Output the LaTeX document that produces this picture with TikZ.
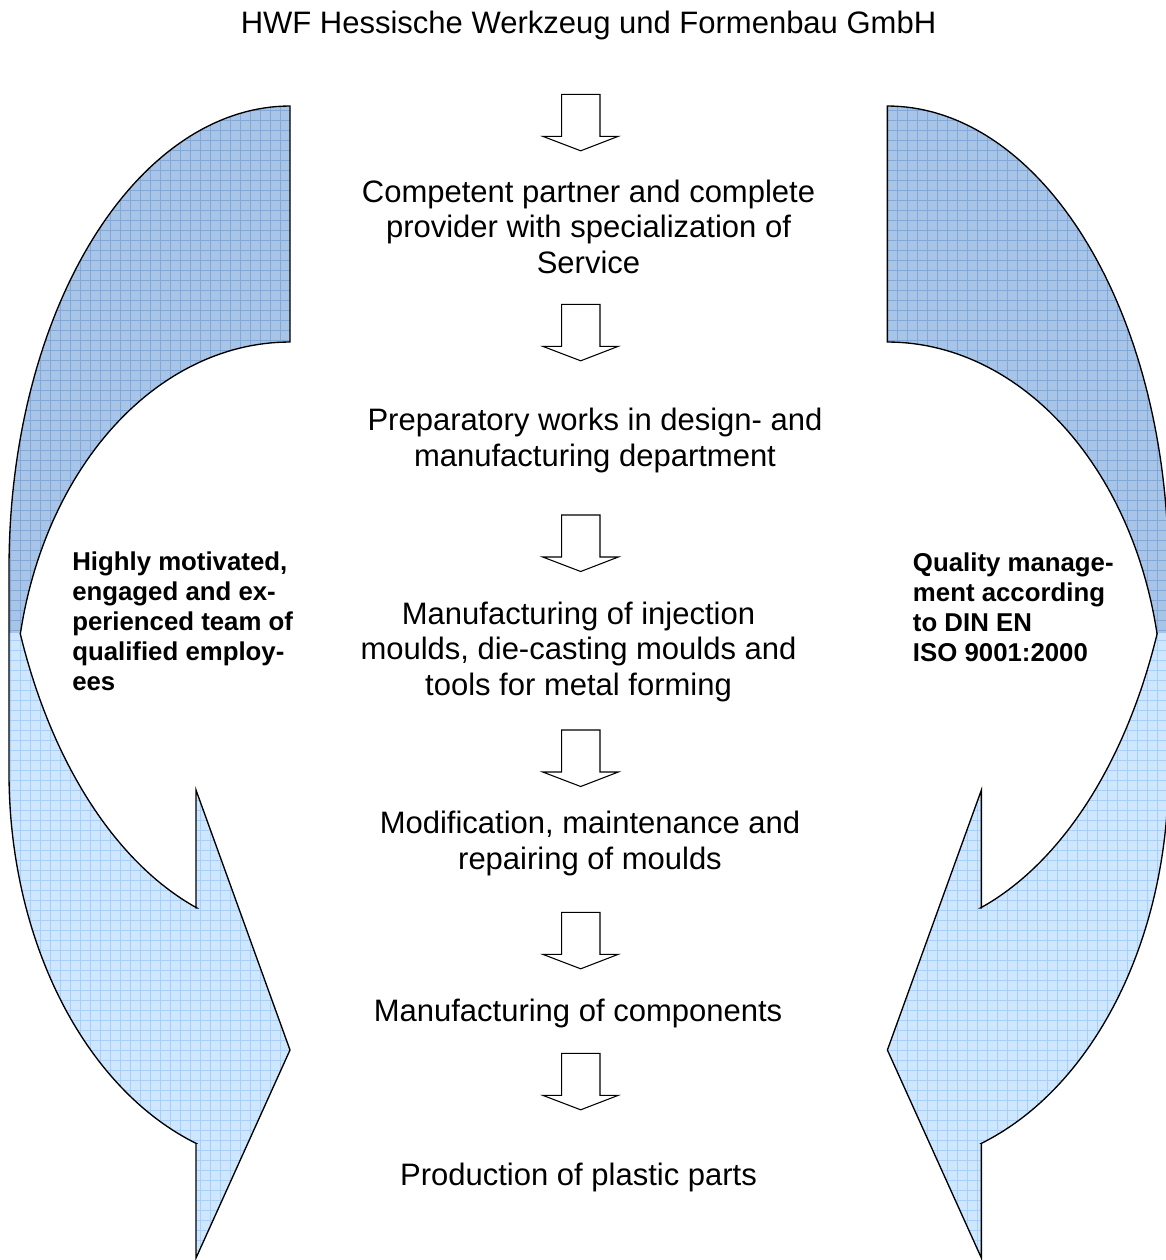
\documentclass[tikz,border=0pt]{standalone}
\usepackage{fontspec}
\setmainfont{Liberation Sans}
\definecolor{darkfill}{RGB}{168,197,231}
\definecolor{darkgrid}{RGB}{130,168,215}
\definecolor{lightfill}{RGB}{207,230,255}
\definecolor{lightgrid}{RGB}{168,207,248}
\tikzset{
  outline/.style={draw=black, line width=1pt, line join=miter},
  blockarr/.style={draw=black, line width=0.8pt, fill=white, line join=miter},
  maintext/.style={font=\fontsize{23.25pt}{26.8pt}\selectfont, align=center, inner sep=0pt, anchor=base},
  sidetext/.style={font=\fontsize{19.35pt}{22.5pt}\selectfont\bfseries, align=left, inner sep=0pt, anchor=base west},
  gridline/.style={line width=0.45pt}
}
% back (dark) band of the left curved arrow
\def\darkpath{(290,342) -- (290,106) -- plot[domain=270:180, samples=70] ({290+281*cos(\x)},{568+462*sin(\x)}) -- (9,633) -- (20.3,633) -- plot[domain=191.44:270, samples=60] ({290+275*cos(\x)},{705+363*sin(\x)}) -- cycle}
% front (light) band with head
\def\lightpath{(20.3,633) -- (9,633) -- (9,773) -- plot[domain=180:109.5, samples=70] ({290+281*cos(\x)},{773+393*sin(\x)}) -- (196,1143.5) -- (196,1258) -- (290,1050) -- (196,790) -- (196,908) -- plot[domain=108.72:158.55, samples=60] ({290+290*cos(\x)},{460+473*sin(\x)}) -- cycle}
\def\darkstroke{(20.3,633) -- plot[domain=191.44:270, samples=60] ({290+275*cos(\x)},{705+363*sin(\x)}) -- (290,342) -- (290,106) -- plot[domain=270:180, samples=70] ({290+281*cos(\x)},{568+462*sin(\x)}) -- (9,633)}
\def\lightstroke{(9,633) -- (9,773) -- plot[domain=180:109.5, samples=70] ({290+281*cos(\x)},{773+393*sin(\x)}) -- (196,1143.5) -- (196,1258) -- (290,1050) -- (196,790) -- (196,908) -- plot[domain=108.72:158.55, samples=60] ({290+290*cos(\x)},{460+473*sin(\x)})}
\newcommand\curvedarrow{%
  \begin{scope}
    \clip \darkpath;
    \fill[darkfill] (0,95) rectangle (300,700);
    \foreach \i in {0,10,...,300} \draw[darkgrid, gridline] (\i,95) -- (\i,700);
    \foreach \j in {100,110,...,700} \draw[darkgrid, gridline] (0,\j) -- (300,\j);
  \end{scope}
  \draw[outline] \darkstroke;
  \begin{scope}
    \clip \lightpath;
    \fill[lightfill] (0,620) rectangle (300,1260);
    \foreach \i in {0,10,...,300} \draw[lightgrid, gridline] (\i,620) -- (\i,1260);
    \foreach \j in {620,630,...,1260} \draw[lightgrid, gridline] (0,\j) -- (300,\j);
  \end{scope}
  \draw[outline] \lightstroke;
}
\begin{document}
\begin{tikzpicture}[x=0.75pt, y=-0.75pt]
  \useasboundingbox (0,0) rectangle (1166,1260);
  \fill[white] (0,0) rectangle (1166,1260);
  % left curved arrow
  \curvedarrow
  % right curved arrow (mirror)
  \begin{scope}[shift={(1177.4,0)}, xscale=-1]
    \curvedarrow
  \end{scope}
  % block down arrows
  \foreach \T in {94.3,304.3,515,730,912.3,1053.3}
    \draw[blockarr] (561.7,\T) -- (600,\T) -- (600,\T+42) -- (618.3,\T+42) -- (580.7,\T+56.5) -- (542.7,\T+42) -- (561.7,\T+42) -- cycle;
  % texts (base anchor = baseline of the last line)
  \node[maintext] (title) at (588.5,33.7) {HWF Hessische Werkzeug und Formenbau GmbH};
  \node[maintext] (n1) at (588.5,273.5) {Competent partner and complete\\provider with specialization of\\Service};
  \node[maintext] (n2) at (595,466.7) {Preparatory works in design- and\\manufacturing department};
  \node[maintext] (n3) at (578.5,695.5) {Manufacturing of injection\\moulds, die-casting moulds and\\tools for metal forming};
  \node[maintext] (n4) at (590,869.7) {Modification, maintenance and\\repairing of moulds};
  \node[maintext] (n5) at (578,1021) {Manufacturing of components};
  \node[maintext] (n6) at (578.5,1185) {Production of plastic parts};
  \node[sidetext] (lt) at (72,690.7) {Highly motivated,\\engaged and ex-\\perienced team of\\qualified employ-\\ees};
  \node[sidetext] (rt) at (912.7,661) {Quality manage-\\ment according\\to DIN EN\\ISO 9001:2000};
\end{tikzpicture}
\end{document}
